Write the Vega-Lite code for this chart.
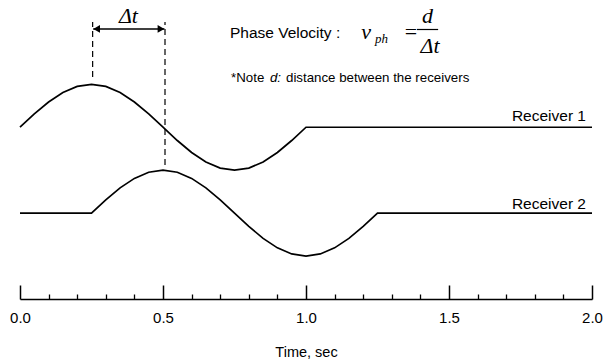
{
  "$schema": "https://vega.github.io/schema/vega-lite/v6.json",
  "width": 572,
  "height": 292,
  "autosize": "none",
  "padding": {"left": 20, "top": 7, "right": 22, "bottom": 63},
  "background": "white",
  "config": {"view": {"stroke": null}, "axis": {"grid": false}},
  "resolve": {"axis": {"x": "independent"}},
  "layer": [
    {
      "data": {"values": [
        {"series": "Receiver 1", "t": 0, "v": 2},
        {"series": "Receiver 1", "t": 0.05, "v": 2.309},
        {"series": "Receiver 1", "t": 0.1, "v": 2.588},
        {"series": "Receiver 1", "t": 0.15, "v": 2.809},
        {"series": "Receiver 1", "t": 0.2, "v": 2.951},
        {"series": "Receiver 1", "t": 0.25, "v": 3.0},
        {"series": "Receiver 1", "t": 0.3, "v": 2.951},
        {"series": "Receiver 1", "t": 0.35, "v": 2.809},
        {"series": "Receiver 1", "t": 0.4, "v": 2.588},
        {"series": "Receiver 1", "t": 0.45, "v": 2.309},
        {"series": "Receiver 1", "t": 0.5, "v": 2.0},
        {"series": "Receiver 1", "t": 0.55, "v": 1.691},
        {"series": "Receiver 1", "t": 0.6, "v": 1.412},
        {"series": "Receiver 1", "t": 0.65, "v": 1.191},
        {"series": "Receiver 1", "t": 0.7, "v": 1.049},
        {"series": "Receiver 1", "t": 0.75, "v": 1.0},
        {"series": "Receiver 1", "t": 0.8, "v": 1.049},
        {"series": "Receiver 1", "t": 0.85, "v": 1.191},
        {"series": "Receiver 1", "t": 0.9, "v": 1.412},
        {"series": "Receiver 1", "t": 0.95, "v": 1.691},
        {"series": "Receiver 1", "t": 1.0, "v": 2.0},
        {"series": "Receiver 1", "t": 2.0, "v": 2.0},
        {"series": "Receiver 2", "t": 0, "v": 0},
        {"series": "Receiver 2", "t": 0.25, "v": 0},
        {"series": "Receiver 2", "t": 0.3, "v": 0.309},
        {"series": "Receiver 2", "t": 0.35, "v": 0.588},
        {"series": "Receiver 2", "t": 0.4, "v": 0.809},
        {"series": "Receiver 2", "t": 0.45, "v": 0.951},
        {"series": "Receiver 2", "t": 0.5, "v": 1.0},
        {"series": "Receiver 2", "t": 0.55, "v": 0.951},
        {"series": "Receiver 2", "t": 0.6, "v": 0.809},
        {"series": "Receiver 2", "t": 0.65, "v": 0.588},
        {"series": "Receiver 2", "t": 0.7, "v": 0.309},
        {"series": "Receiver 2", "t": 0.75, "v": 0.0},
        {"series": "Receiver 2", "t": 0.8, "v": -0.309},
        {"series": "Receiver 2", "t": 0.85, "v": -0.588},
        {"series": "Receiver 2", "t": 0.9, "v": -0.809},
        {"series": "Receiver 2", "t": 0.95, "v": -0.951},
        {"series": "Receiver 2", "t": 1.0, "v": -1.0},
        {"series": "Receiver 2", "t": 1.05, "v": -0.951},
        {"series": "Receiver 2", "t": 1.1, "v": -0.809},
        {"series": "Receiver 2", "t": 1.15, "v": -0.588},
        {"series": "Receiver 2", "t": 1.2, "v": -0.309},
        {"series": "Receiver 2", "t": 1.25, "v": 0},
        {"series": "Receiver 2", "t": 2.0, "v": 0}
      ]},
      "mark": {"type": "line", "color": "black", "strokeWidth": 1.7},
      "encoding": {
        "x": {"field": "t", "type": "quantitative", "scale": {"domain": [0, 2], "nice": false, "zero": false},
          "axis": {"orient": "bottom", "values": [0, 0.5, 1, 1.5, 2], "format": ".1f", "tickSize": -14, "tickWidth": 1.5, "tickColor": "black",
            "domainColor": "black", "domainWidth": 1.5, "labelFont": "Liberation Sans", "labelFontSize": 15, "labelColor": "black",
            "labelPadding": 25, "labelFlush": false, "labelOverlap": false,
            "title": "Time, sec", "titleFont": "Liberation Sans", "titleFontSize": 14.5, "titleFontWeight": "normal", "titleColor": "black", "titlePadding": 20}},
        "y": {"field": "v", "type": "quantitative", "scale": {"domain": [-2, 4.8], "nice": false, "zero": false}, "axis": null},
        "detail": {"field": "series"}
      }
    },
    {
      "data": {"values": [
        {"t": 0.254, "v1": 3.17, "v2": 4.45},
        {"t": 0.507, "v1": 1.12, "v2": 4.45}
      ]},
      "mark": {"type": "rule", "color": "black", "strokeWidth": 1.2, "strokeDash": [6, 4]},
      "encoding": {
        "x": {"field": "t", "type": "quantitative",
          "axis": {"orient": "bottom", "values": [0.1, 0.2, 0.3, 0.4, 0.6, 0.7, 0.8, 0.9, 1.1, 1.2, 1.3, 1.4, 1.6, 1.7, 1.8, 1.9],
            "tickSize": -5, "tickWidth": 1.3, "tickColor": "black", "labels": false, "domain": false, "title": null}},
        "y": {"field": "v1", "type": "quantitative"},
        "y2": {"field": "v2"}
      }
    },
    {
      "data": {"values": [{"t1": 0.256, "t2": 0.505, "v": 4.288}]},
      "mark": {"type": "rule", "color": "black", "strokeWidth": 1.5},
      "encoding": {
        "x": {"field": "t1", "type": "quantitative", "axis": null},
        "x2": {"field": "t2"},
        "y": {"field": "v", "type": "quantitative"}
      }
    },
    {
      "data": {"values": [{"t": 0.268, "v": 4.288}]},
      "mark": {"type": "point", "shape": "triangle-left", "filled": true, "color": "black", "size": 60, "opacity": 1},
      "encoding": {"x": {"field": "t", "type": "quantitative", "axis": null}, "y": {"field": "v", "type": "quantitative"}}
    },
    {
      "data": {"values": [{"t": 0.493, "v": 4.288}]},
      "mark": {"type": "point", "shape": "triangle-right", "filled": true, "color": "black", "size": 60, "opacity": 1},
      "encoding": {"x": {"field": "t", "type": "quantitative", "axis": null}, "y": {"field": "v", "type": "quantitative"}}
    },
    {
      "data": {"values": [{"label": "Phase Velocity :", "t": 0.734, "v": 4.071}]},
      "mark": {"type": "text", "font": "Liberation Sans", "fontSize": 15.5, "align": "left", "baseline": "alphabetic", "color": "black"},
      "encoding": {"x": {"field": "t", "type": "quantitative", "axis": null}, "y": {"field": "v", "type": "quantitative"}, "text": {"field": "label"}}
    },
    {
      "data": {"values": [
        {"label": "Receiver 1", "t": 1.979, "v": 2.15},
        {"label": "Receiver 2", "t": 1.979, "v": 0.096}
      ]},
      "mark": {"type": "text", "font": "Liberation Sans", "fontSize": 15.5, "align": "right", "baseline": "alphabetic", "color": "black"},
      "encoding": {"x": {"field": "t", "type": "quantitative", "axis": null}, "y": {"field": "v", "type": "quantitative"}, "text": {"field": "label"}}
    },
    {
      "data": {"values": [
        {"label": "*Note", "t": 0.738, "v": 3.053},
        {"label": "distance between the receivers", "t": 0.93, "v": 3.053}
      ]},
      "mark": {"type": "text", "font": "Liberation Sans", "fontSize": 13.3, "align": "left", "baseline": "alphabetic", "color": "black"},
      "encoding": {"x": {"field": "t", "type": "quantitative", "axis": null}, "y": {"field": "v", "type": "quantitative"}, "text": {"field": "label"}}
    },
    {
      "data": {"values": [{"label": "d:", "t": 0.874, "v": 3.053}]},
      "mark": {"type": "text", "font": "Liberation Sans", "fontSize": 13.3, "fontStyle": "italic", "align": "left", "baseline": "alphabetic", "color": "black"},
      "encoding": {"x": {"field": "t", "type": "quantitative", "axis": null}, "y": {"field": "v", "type": "quantitative"}, "text": {"field": "label"}}
    },
    {
      "data": {"values": [
        {"label": "Δt", "t": 0.379, "v": 4.427},
        {"label": "v", "t": 1.21, "v": 4.055},
        {"label": "d", "t": 1.425, "v": 4.427},
        {"label": "Δt", "t": 1.434, "v": 3.729}
      ]},
      "mark": {"type": "text", "font": "Liberation Serif", "fontSize": 22, "fontStyle": "italic", "align": "center", "baseline": "alphabetic", "color": "black"},
      "encoding": {"x": {"field": "t", "type": "quantitative", "axis": null}, "y": {"field": "v", "type": "quantitative"}, "text": {"field": "label"}}
    },
    {
      "data": {"values": [{"label": "=", "t": 1.367, "v": 4.055}]},
      "mark": {"type": "text", "font": "Liberation Serif", "fontSize": 22, "align": "center", "baseline": "alphabetic", "color": "black"},
      "encoding": {"x": {"field": "t", "type": "quantitative", "axis": null}, "y": {"field": "v", "type": "quantitative"}, "text": {"field": "label"}}
    },
    {
      "data": {"values": [{"label": "ph", "t": 1.241, "v": 3.96}]},
      "mark": {"type": "text", "font": "Liberation Serif", "fontSize": 13, "fontStyle": "italic", "align": "left", "baseline": "alphabetic", "color": "black"},
      "encoding": {"x": {"field": "t", "type": "quantitative", "axis": null}, "y": {"field": "v", "type": "quantitative"}, "text": {"field": "label"}}
    },
    {
      "data": {"values": [{"t1": 1.388, "t2": 1.462, "v": 4.276}]},
      "mark": {"type": "rule", "color": "black", "strokeWidth": 1.2},
      "encoding": {
        "x": {"field": "t1", "type": "quantitative", "axis": null},
        "x2": {"field": "t2"},
        "y": {"field": "v", "type": "quantitative"}
      }
    }
  ]
}
